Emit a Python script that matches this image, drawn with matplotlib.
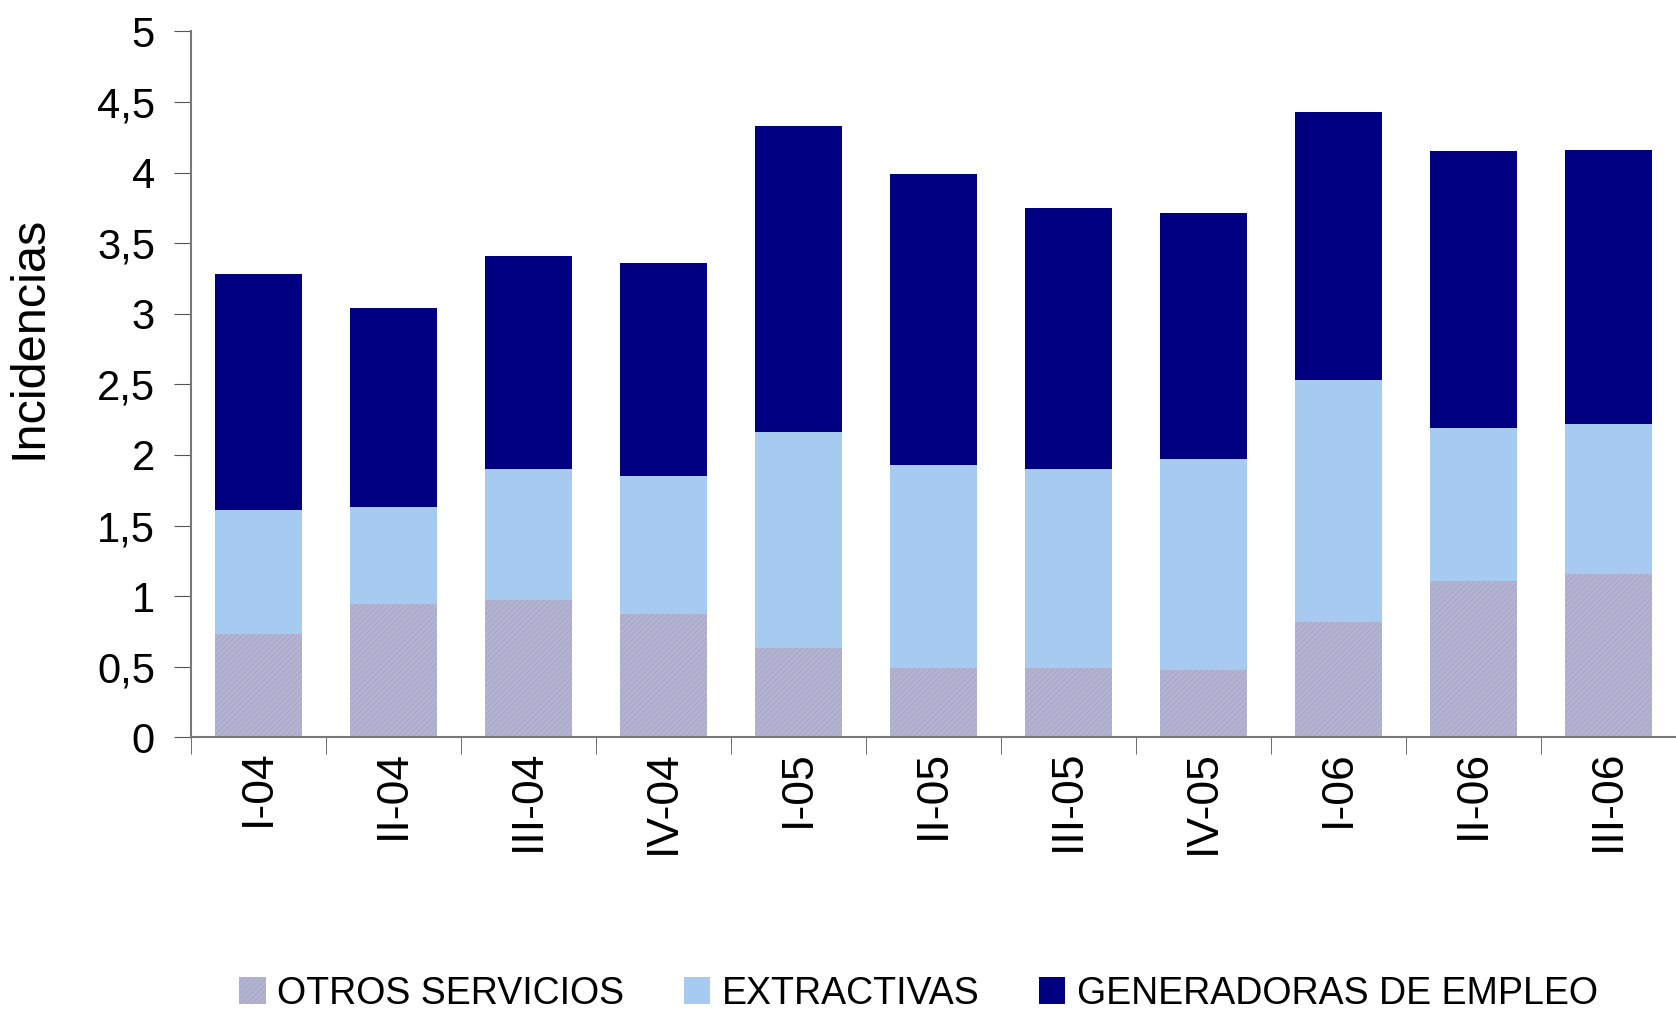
import numpy as np
import matplotlib.pyplot as plt
import matplotlib as mpl

mpl.rcParams['font.family'] = ['Liberation Sans', 'DejaVu Sans']
mpl.rcParams['hatch.linewidth'] = 0.4

trimestres = ['I-04', 'II-04', 'III-04', 'IV-04', 'I-05', 'II-05', 'III-05',
              'IV-05', 'I-06', 'II-06', 'III-06']
otros = [0.73, 0.945, 0.975, 0.87, 0.635, 0.49, 0.49, 0.475, 0.815, 1.11, 1.16]
extractivas = [0.88, 0.685, 0.925, 0.98, 1.525, 1.44, 1.41, 1.495, 1.715, 1.08, 1.06]
generadoras = [1.67, 1.41, 1.51, 1.51, 2.17, 2.06, 1.85, 1.74, 1.90, 1.96, 1.94]
yticks = [0, 0.5, 1, 1.5, 2, 2.5, 3, 3.5, 4, 4.5, 5]

x = np.arange(len(trimestres))
otros = np.array(otros)
extractivas = np.array(extractivas)
generadoras = np.array(generadoras)

fig = plt.figure(figsize=(16.76, 10.10), dpi=100)
ax = fig.add_axes([0.114, 0.27, 0.886, 0.699])

w = 0.65
ax.bar(x, otros, w, color='#b3b3d1', edgecolor='#a0a0c4', linewidth=0,
       hatch='//////', label='OTROS SERVICIOS')
ax.bar(x, extractivas, w, bottom=otros, color='#a6caf0', linewidth=0,
       label='EXTRACTIVAS')
ax.bar(x, generadoras, w, bottom=otros + extractivas, color='#000080',
       linewidth=0, label='GENERADORAS DE EMPLEO')

ax.set_xlim(-0.5, len(x) - 0.5)
ax.set_ylim(0, 5)
ax.set_yticks(yticks)
ax.set_yticklabels([('%g' % v).replace('.', ',') for v in yticks], fontsize=30)
ax.set_xticks(x)
ax.set_xticklabels(trimestres, rotation=90, fontsize=32)
ax.set_xticks(np.arange(len(x) + 1) - 0.5, minor=True)
ax.tick_params(axis='x', which='major', length=0, pad=9)
ax.tick_params(axis='x', which='minor', length=12, color='#555555')
ax.tick_params(axis='y', length=12, color='#555555', pad=14)

for s in ['top', 'right']:
    ax.spines[s].set_visible(False)
for s in ['left', 'bottom']:
    ax.spines[s].set_color('#777777')
    ax.spines[s].set_linewidth(1.5)

ax.set_ylabel('Incidencias', fontsize=35)
ax.yaxis.set_label_coords(-0.094, 0.566)

fig.legend(loc='lower center', bbox_to_anchor=(0.548, -0.035), ncol=3,
           frameon=False, fontsize=27, handlelength=0.7, handleheight=0.7,
           handletextpad=0.3, columnspacing=1.6)

fig.savefig('out.png', dpi=100)
